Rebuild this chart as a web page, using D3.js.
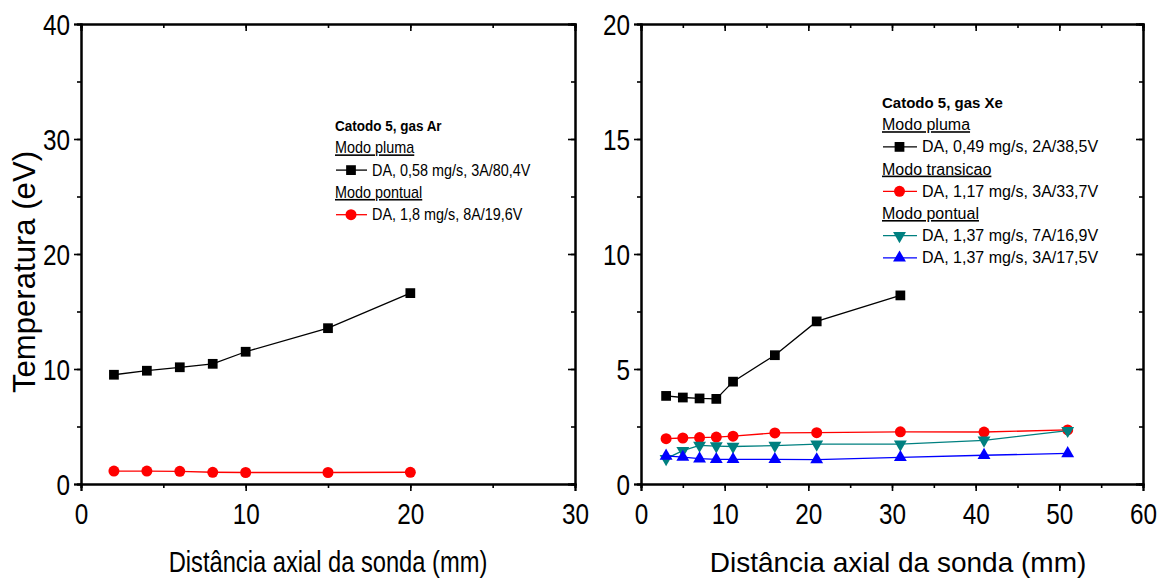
<!DOCTYPE html>
<html><head><meta charset="utf-8">
<script src="https://cdn.jsdelivr.net/npm/d3@7"></script>
<style>body{margin:0;background:#fff}</style>
</head><body>
<svg id="c" width="1168" height="581"></svg>
<script>
// ---- data ----
const arX = [2, 4, 6, 8, 10, 15, 20];
const arPluma = [9.5, 9.85, 10.15, 10.45, 11.5, 13.55, 16.6];
const arPontual = [1.12, 1.12, 1.1, 1.02, 1.0, 1.0, 1.02];

const xeXPluma = [3, 5, 7, 9, 11, 16, 21, 31];
const xePluma = [3.83, 3.76, 3.72, 3.7, 4.45, 5.6, 7.07, 8.2];
const xeX = [3, 5, 7, 9, 11, 16, 21, 31, 41, 51];
const xeTransicao = [1.97, 2.0, 2.02, 2.04, 2.08, 2.22, 2.23, 2.27, 2.26, 2.35];
const xePontual7A = [1.1, 1.45, 1.68, 1.65, 1.63, 1.67, 1.73, 1.73, 1.9, 2.32];
const xePontual3A = [1.22, 1.17, 1.1, 1.07, 1.07, 1.07, 1.06, 1.16, 1.25, 1.33];

const leftXTicks = [0, 10, 20, 30];
const leftYTicks = [0, 10, 20, 30, 40];
const rightXTicks = [0, 10, 20, 30, 40, 50, 60];
const rightYTicks = [0, 5, 10, 15, 20];

const xTitle = "Distância axial da sonda (mm)";
const yTitle = "Temperatura (eV)";

const svg = d3.select("#c");
const FONT = "'Liberation Sans',Arial,sans-serif";

// horizontally compress text about its anchor point
function narrow(sel, sx) {
  sel.each(function () {
    const t = d3.select(this);
    const x = +t.attr("x") || 0;
    const prev = t.attr("transform") || "";
    t.attr("x", 0).attr("transform", prev + ` translate(${x},0) scale(${sx},1)`);
  });
}

function sym(type, size) {
  const t = {square: d3.symbolSquare, circle: d3.symbolCircle, tri: d3.symbolTriangle, tridown: d3.symbolTriangle}[type];
  return d3.symbol().type(t).size(size)();
}

function panel(opt) {
  const g = svg.append("g");
  const x = d3.scaleLinear().domain(opt.xd).range([opt.x0, opt.x1]);
  const y = d3.scaleLinear().domain(opt.yd).range([opt.y1, opt.y0]);
  const xMinor = d3.range(opt.xd[0], opt.xd[1] + 0.001, opt.xMinor);
  const yMinor = d3.range(opt.yd[0], opt.yd[1] + 0.001, opt.yMinor);
  const MJ = 7, MN = 4;
  // bottom axis
  g.append("g").attr("transform", `translate(0,${opt.y1})`)
    .call(d3.axisBottom(x).tickValues(xMinor).tickSize(MN).tickFormat(""));
  const bx = g.append("g").attr("transform", `translate(0,${opt.y1})`)
    .call(d3.axisBottom(x).tickValues(opt.xt).tickSize(MJ).tickPadding(12).tickFormat(d3.format("d")));
  // top axis (inward)
  g.append("g").attr("transform", `translate(0,${opt.y0})`)
    .call(d3.axisTop(x).tickValues(xMinor).tickSize(-MN).tickFormat(""));
  g.append("g").attr("transform", `translate(0,${opt.y0})`)
    .call(d3.axisTop(x).tickValues(opt.xt).tickSize(-MJ).tickFormat(""));
  // left axis
  g.append("g").attr("transform", `translate(${opt.x0},0)`)
    .call(d3.axisLeft(y).tickValues(yMinor).tickSize(MN).tickFormat(""));
  const ly = g.append("g").attr("transform", `translate(${opt.x0},0)`)
    .call(d3.axisLeft(y).tickValues(opt.yt).tickSize(MJ).tickPadding(4).tickFormat(d3.format("d")));
  // right axis (inward)
  g.append("g").attr("transform", `translate(${opt.x1},0)`)
    .call(d3.axisRight(y).tickValues(yMinor).tickSize(-MN).tickFormat(""));
  g.append("g").attr("transform", `translate(${opt.x1},0)`)
    .call(d3.axisRight(y).tickValues(opt.yt).tickSize(-MJ).tickFormat(""));
  g.selectAll(".domain").attr("stroke", "#000").attr("stroke-width", 2);
  g.selectAll(".tick line").attr("stroke", "#000").attr("stroke-width", 1.6);
  g.selectAll(".tick text").attr("font-family", FONT).attr("font-size", 30).attr("fill", "#000");
  narrow(bx.selectAll(".tick text"), 0.81);
  narrow(ly.selectAll(".tick text"), 0.81);
  ly.selectAll(".tick text").attr("dy", "0.36em");

  // series
  opt.series.forEach(s => {
    const pts = s.xs.map((d, i) => [d, s.ys[i]]);
    g.append("path").datum(pts)
      .attr("fill", "none").attr("stroke", s.color).attr("stroke-width", 1.3)
      .attr("d", d3.line().x(d => x(d[0])).y(d => y(d[1])));
    g.selectAll(null).data(pts).enter().append("path")
      .attr("d", sym(s.marker, s.size))
      .attr("transform", d => `translate(${x(d[0])},${y(d[1])})` + (s.marker === "tridown" ? " rotate(180)" : ""))
      .attr("fill", s.fill || s.color);
  });

  // legend
  const L = opt.legend;
  let yy = L.y;
  L.items.forEach(it => {
    let t;
    if (it.kind === "title") {
      t = g.append("text").attr("x", L.x).attr("y", yy).text(it.text)
        .attr("font-family", FONT).attr("font-weight", "bold").attr("font-size", L.tfs);
    } else if (it.kind === "head") {
      t = g.append("text").attr("x", L.x).attr("y", yy).text(it.text)
        .attr("font-family", FONT).attr("font-size", L.fs).attr("text-decoration", "underline");
    } else {
      const s = it.s;
      g.append("line").attr("x1", L.x + 1).attr("x2", L.x + L.sw).attr("y1", yy - 5.5).attr("y2", yy - 5.5)
        .attr("stroke", s.color).attr("stroke-width", 1.3);
      g.append("path").attr("d", sym(s.marker, s.size))
        .attr("transform", `translate(${L.x + L.sw / 2},${yy - 5.5})` + (s.marker === "tridown" ? " rotate(180)" : ""))
        .attr("fill", s.fill || s.color);
      t = g.append("text").attr("x", L.x + L.sw + 5).attr("y", yy).text(s.name)
        .attr("font-family", FONT).attr("font-size", L.fs);
    }
    if (L.sx !== 1) narrow(t, L.sx);
    yy += L.dy;
  });

  // axis titles
  const xt = svg.append("text").attr("x", opt.xtc).attr("y", 572).attr("text-anchor", "middle")
    .attr("font-family", FONT).attr("font-size", opt.xtfs).text(xTitle);
  if (opt.xtsx !== 1) narrow(xt, opt.xtsx);
  if (opt.ytitle) {
    svg.append("text").attr("transform", `translate(35,272) rotate(-90)`)
      .attr("text-anchor", "middle").attr("font-family", FONT)
      .attr("font-size", 31).attr("textLength", 242).attr("lengthAdjust", "spacingAndGlyphs").text(yTitle);
  }
}

const sArPl = {name: "DA, 0,58 mg/s, 3A/80,4V", xs: arX, ys: arPluma, color: "#000", marker: "square", size: 95};
const sArPo = {name: "DA, 1,8 mg/s, 8A/19,6V", xs: arX, ys: arPontual, color: "#ff0000", marker: "circle", size: 95};
panel({
  x0: 81, x1: 575, y0: 24, y1: 484, xd: [0, 30], yd: [0, 40], xt: leftXTicks, yt: leftYTicks, xMinor: 5, yMinor: 5,
  ytitle: true, xtc: 328, xtfs: 30, xtsx: 0.79,
  series: [sArPl, sArPo],
  legend: {x: 335, y: 131, dy: 22.3, sw: 32, fs: 16, tfs: 15, sx: 0.9, items: [
    {kind: "title", text: "Catodo 5, gas Ar"}, {kind: "head", text: "Modo pluma"}, {kind: "s", s: sArPl},
    {kind: "head", text: "Modo pontual"}, {kind: "s", s: sArPo}]}
});

const sXePl = {name: "DA, 0,49 mg/s, 2A/38,5V", xs: xeXPluma, ys: xePluma, color: "#000", marker: "square", size: 95};
const sXeTr = {name: "DA, 1,17 mg/s, 3A/33,7V", xs: xeX, ys: xeTransicao, color: "#ff0000", marker: "circle", size: 95};
const sXe7 = {name: "DA, 1,37 mg/s, 7A/16,9V", xs: xeX, ys: xePontual7A, color: "#008080", marker: "tridown", size: 72};
const sXe3 = {name: "DA, 1,37 mg/s, 3A/17,5V", xs: xeX, ys: xePontual3A, color: "#0000ff", marker: "tri", size: 72};
panel({
  x0: 641, x1: 1143, y0: 24, y1: 484, xd: [0, 60], yd: [0, 20], xt: rightXTicks, yt: rightYTicks, xMinor: 5, yMinor: 2.5,
  ytitle: false, xtc: 898, xtfs: 28, xtsx: 1,
  series: [sXePl, sXeTr, sXe7, sXe3],
  legend: {x: 882, y: 108, dy: 22.2, sw: 35, fs: 16, tfs: 15, sx: 1, items: [
    {kind: "title", text: "Catodo 5, gas Xe"}, {kind: "head", text: "Modo pluma"}, {kind: "s", s: sXePl},
    {kind: "head", text: "Modo transicao"}, {kind: "s", s: sXeTr},
    {kind: "head", text: "Modo pontual"}, {kind: "s", s: sXe7}, {kind: "s", s: sXe3}]}
});
</script>
</body></html>
